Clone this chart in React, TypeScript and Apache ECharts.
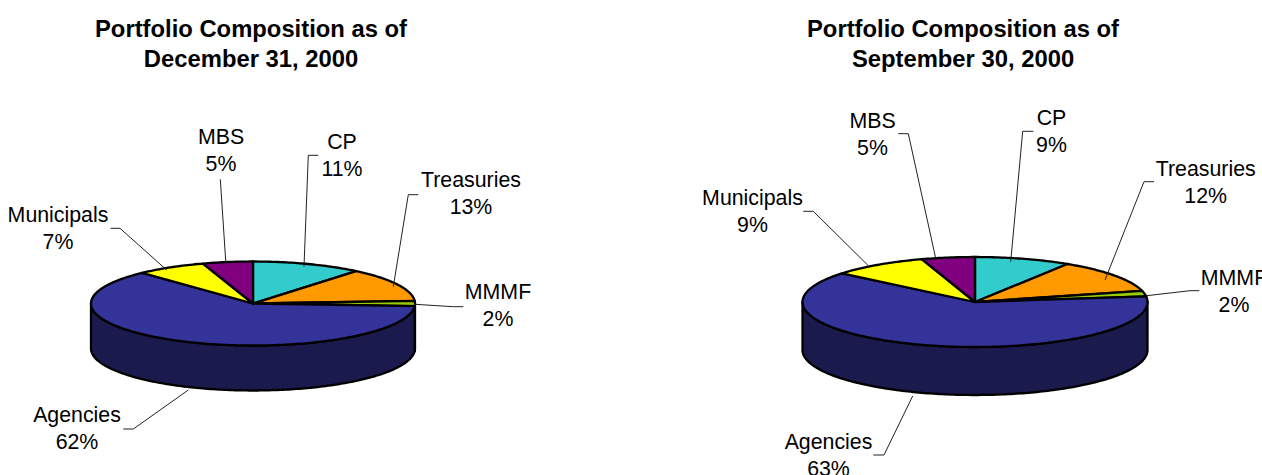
import React, { useEffect, useRef } from "react";
import * as echarts from "echarts";

const categories = ["CP", "Treasuries", "MMMF", "Agencies", "Municipals", "MBS"];
const valuesDec = [11, 13, 2, 62, 7, 5];
const valuesSep = [9, 12, 2, 63, 9, 5];
const titleDec = "Portfolio Composition as of\nDecember 31, 2000";
const titleSep = "Portfolio Composition as of\nSeptember 30, 2000";

const topColors = ["#33CCCC", "#FF9900", "#99CC00", "#333399", "#FFFF00", "#800080"];
const wallColors = ["#1A6666", "#804D00", "#4D6600", "#1A1A4D", "#808000", "#400040"];
const FONT = '"Liberation Sans", Arial, sans-serif';

const layoutDec = {
  cx: 253, cy: 303.5, rx: 162, ry: 42, depth: 45,
  labels: [[342, 155.5], [471, 193.5], [498, 305.5], [77, 428.5], [58, 228.5], [221, 150]],
  leaders: [
    [[318.3, 155.3], [308.3, 155.3], [304, 266.7]],
    [[418.3, 194.7], [408.3, 194.7], [393.3, 286.7]],
    [[463.3, 306.7], [453.3, 306.7], [415, 304.3]],
    [[123.3, 429], [133.3, 429], [188.3, 390]],
    [[110.7, 228.3], [120, 228.3], [166.7, 270]],
    [[220.3, 179.3], [226, 265]],
  ],
};
const layoutSep = {
  cx: 975, cy: 302, rx: 172.5, ry: 45, depth: 48,
  labels: [[1051.5, 131.5], [1205.7, 182.5], [1234, 291.5], [828.5, 455], [752.5, 211.5], [872.5, 134]],
  leaders: [
    [[1033.3, 131.3], [1022.7, 131.3], [1010.7, 261.7]],
    [[1154, 181.7], [1144, 181.7], [1105, 280]],
    [[1199.3, 290.7], [1190, 290.7], [1146.7, 295.7]],
    [[873.3, 455], [884, 455], [912.7, 396]],
    [[803.3, 211.3], [813.3, 211.3], [868.3, 265.7]],
    [[898.3, 133.7], [908.3, 133.7], [935.7, 258.3]],
  ],
};

function ellipsePoint(p: any, deg: number, dy = 0) {
  const a = (deg * Math.PI) / 180;
  return [p.cx + p.rx * Math.sin(a), p.cy - p.ry * Math.cos(a) + dy];
}

function arcPoints(p: any, from: number, to: number, dy = 0) {
  const pts: number[][] = [];
  const n = Math.max(2, Math.ceil(Math.abs(to - from)));
  for (let i = 0; i <= n; i++) pts.push(ellipsePoint(p, from + ((to - from) * i) / n, dy));
  return pts;
}

function angles(values: number[], i: number) {
  const total = values.reduce((s, v) => s + v, 0);
  const before = values.slice(0, i).reduce((s, v) => s + v, 0);
  return [(before / total) * 360, ((before + values[i]) / total) * 360];
}

function pieSeries(values: number[], p: any) {
  const walls = {
    type: "custom",
    coordinateSystem: "none",
    silent: true,
    data: values,
    renderItem: (params: any) => {
      const i = params.dataIndex;
      const [a0, a1] = angles(values, i);
      const from = Math.max(a0, 90);
      const to = Math.min(a1, 270);
      if (to <= from) return null;
      const points = [...arcPoints(p, from, to), ...arcPoints(p, to, from, p.depth)];
      return {
        type: "polygon",
        shape: { points },
        style: { fill: wallColors[i], stroke: "#000", lineWidth: 2.3, lineJoin: "round" },
      };
    },
  };
  const tops = {
    type: "custom",
    coordinateSystem: "none",
    silent: true,
    data: values,
    renderItem: (params: any) => {
      const i = params.dataIndex;
      const [a0, a1] = angles(values, i);
      const points = [[p.cx, p.cy], ...arcPoints(p, a0, a1)];
      return {
        type: "polygon",
        shape: { points },
        style: { fill: topColors[i], stroke: "#000", lineWidth: 2.3, lineJoin: "round" },
      };
    },
  };
  const notes = {
    type: "custom",
    coordinateSystem: "none",
    silent: true,
    data: values,
    renderItem: (params: any, api: any) => {
      const i = params.dataIndex;
      const [x, y] = p.labels[i];
      return {
        type: "group",
        children: [
          {
            type: "polyline",
            shape: { points: p.leaders[i] },
            style: { fill: "none", stroke: "#222", lineWidth: 1 },
          },
          {
            type: "text",
            style: {
              x,
              y,
              text: `${categories[i]}\n${api.value(0)}%`,
              fill: "#000",
              font: `21.33px ${FONT}`,
              lineHeight: 27,
              align: "center",
              verticalAlign: "middle",
            },
          },
        ],
      };
    },
  };
  return [walls, tops, notes];
}

function titleOption(text: string, left: number) {
  return {
    text,
    left,
    top: 8,
    textAlign: "center",
    textStyle: { fontFamily: FONT, fontSize: 23.8, fontWeight: "bold", color: "#000", lineHeight: 30 },
  };
}

export default function App() {
  const ref = useRef<HTMLDivElement>(null);
  useEffect(() => {
    const chart = echarts.init(ref.current!, null, { renderer: "svg" });
    chart.setOption({
      animation: false,
      backgroundColor: "#fff",
      title: [titleOption(titleDec, 246), titleOption(titleSep, 958)],
      series: [...pieSeries(valuesDec, layoutDec), ...pieSeries(valuesSep, layoutSep)],
    });
    return () => chart.dispose();
  }, []);
  return (
    <div
      ref={ref}
      style={{ position: "fixed", left: 0, top: 0, width: 1262, height: 475, overflow: "hidden" }}
    />
  );
}
